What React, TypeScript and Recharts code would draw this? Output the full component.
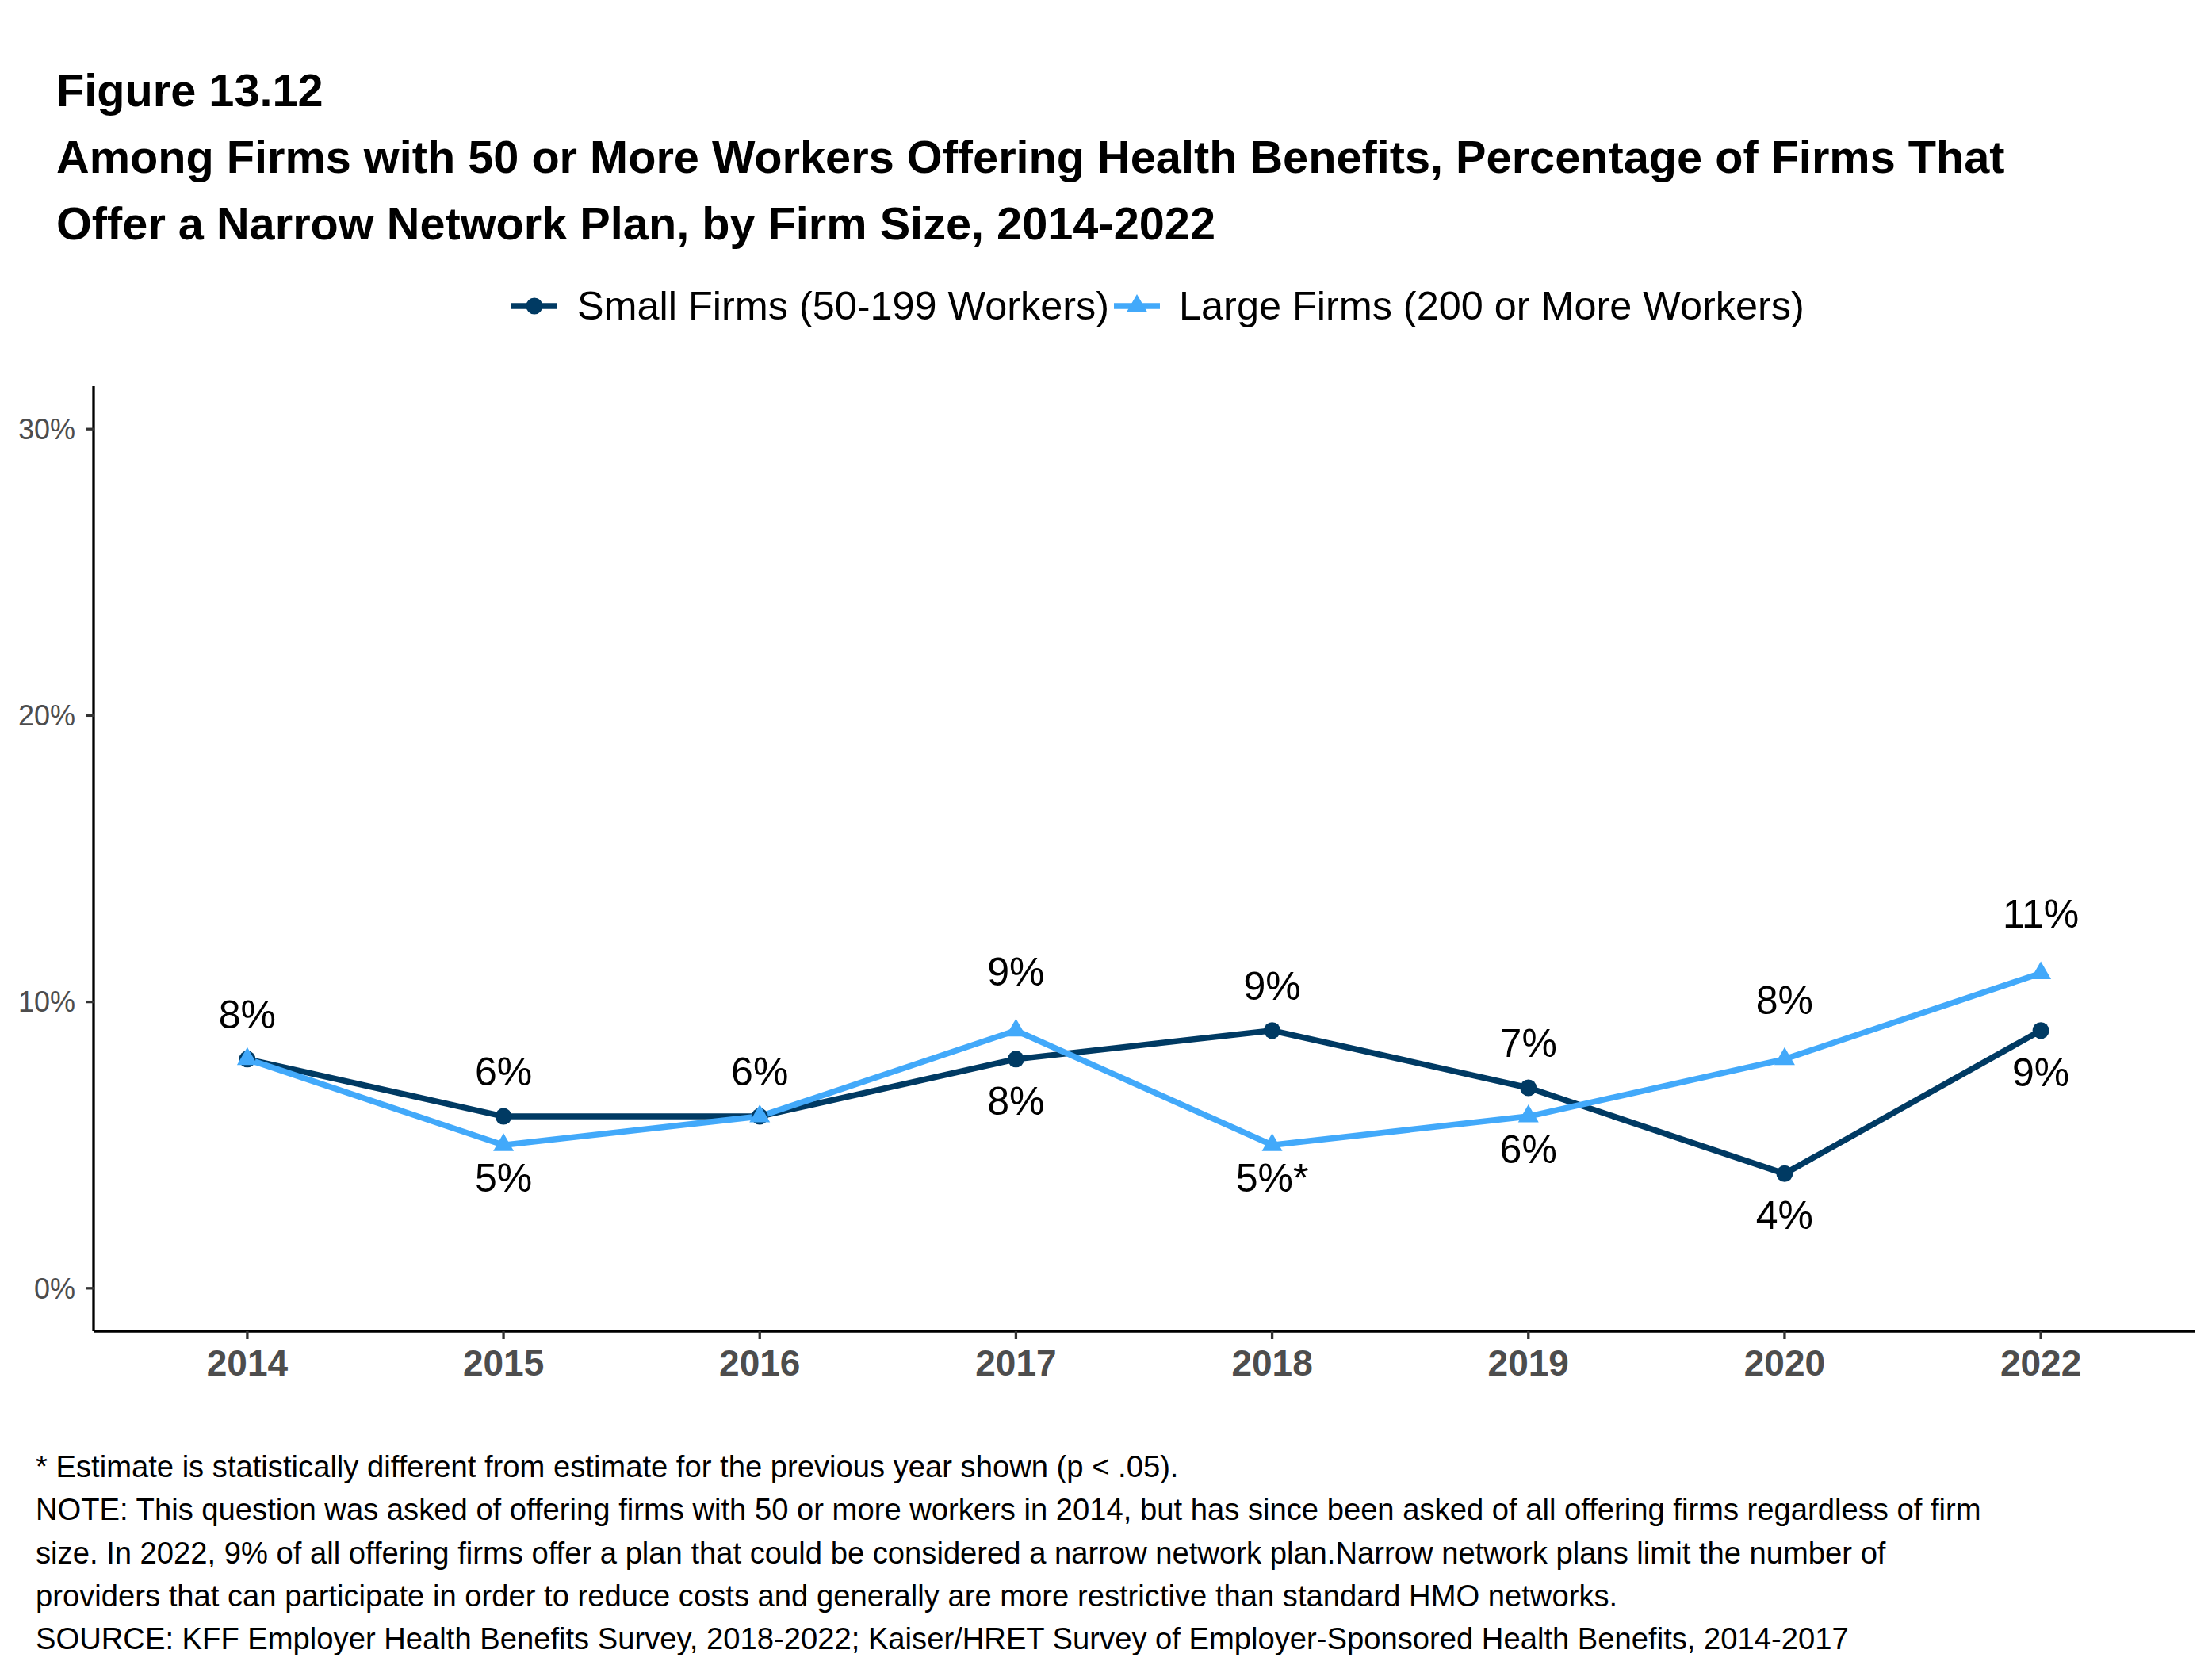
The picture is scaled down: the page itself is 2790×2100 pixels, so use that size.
import { LineChart, Line, XAxis, YAxis, LabelList } from 'recharts';

const years = ['2014', '2015', '2016', '2017', '2018', '2019', '2020', '2022'];
const smallFirms = [8, 6, 6, 8, 9, 7, 4, 9];
const largeFirms = [8, 5, 6, 9, 5, 6, 8, 11];
// * = statistically different from the previous year shown
const largeStarred = [false, false, false, false, true, false, false, false];
const yTicks = [0, 10, 20, 30];

const titleLines = [
  'Figure 13.12',
  'Among Firms with 50 or More Workers Offering Health Benefits, Percentage of Firms That',
  'Offer a Narrow Network Plan, by Firm Size, 2014-2022',
];
const noteLines = [
  '* Estimate is statistically different from estimate for the previous year shown (p < .05).',
  'NOTE: This question was asked of offering firms with 50 or more workers in 2014, but has since been asked of all offering firms regardless of firm',
  'size. In 2022, 9% of all offering firms offer a plan that could be considered a narrow network plan.Narrow network plans limit the number of',
  'providers that can participate in order to reduce costs and generally are more restrictive than standard HMO networks.',
  'SOURCE: KFF Employer Health Benefits Survey, 2018-2022; Kaiser/HRET Survey of Employer-Sponsored Health Benefits, 2014-2017',
];

const SMALL = '#003A63';
const LARGE = '#42A9FA';
const FONT = '"Liberation Sans", Arial, Helvetica, sans-serif';

const data = years.map((year, i) => ({
  idx: i,
  year,
  small: smallFirms[i],
  large: largeFirms[i],
}));

const Triangle = ({ cx, cy, fill }: { cx: number; cy: number; fill: string }) => (
  <path d={`M${cx},${cy - 15} L${cx + 13},${cy + 7.5} L${cx - 13},${cy + 7.5} Z`} fill={fill} />
);

function smallLabel(props: any) {
  const { x, y, index } = props;
  if (index == null) return null;
  const above = smallFirms[index] >= largeFirms[index];
  return (
    <text key={`sl-${index}`} x={x} y={above ? y - 39 : y + 70} textAnchor="middle"
      fontSize={50} fontFamily={FONT} fill="#000">
      {smallFirms[index]}%
    </text>
  );
}

function largeLabel(props: any) {
  const { x, y, index } = props;
  if (index == null) return null;
  if (largeFirms[index] === smallFirms[index]) return null;
  const above = largeFirms[index] > smallFirms[index];
  return (
    <text key={`ll-${index}`} x={x} y={above ? y - 57 : y + 59} textAnchor="middle"
      fontSize={50} fontFamily={FONT} fill="#000">
      {largeFirms[index]}%{largeStarred[index] ? '*' : ''}
    </text>
  );
}

function LegendKey({ color, shape }: { color: string; shape: 'circle' | 'triangle' }) {
  return (
    <svg width={58} height={40} style={{ display: 'block' }}>
      <line x1={0} y1={20} x2={58} y2={20} stroke={color} strokeWidth={7.5} />
      {shape === 'circle'
        ? <circle cx={29} cy={20} r={10.5} fill={color} />
        : <Triangle cx={29} cy={20} fill={color} />}
    </svg>
  );
}

export default function App() {
  return (
    <div style={{ position: 'relative', width: 2790, height: 2100, background: '#fff', fontFamily: FONT }}>
      <style>{'body{margin:0}'}</style>

      <div style={{ position: 'absolute', left: 71, top: 72, fontSize: 57.7, fontWeight: 700, lineHeight: '84px', color: '#000', whiteSpace: 'nowrap' }}>
        {titleLines.map((t) => <div key={t}>{t}</div>)}
      </div>

      <div style={{ position: 'absolute', left: 645, top: 356, height: 60, display: 'flex', alignItems: 'center', fontSize: 50.4, lineHeight: '60px', color: '#000', whiteSpace: 'nowrap' }}>
        <LegendKey color={SMALL} shape="circle" />
        <span style={{ marginLeft: 25 }}>Small Firms (50-199 Workers)</span>
        <span style={{ marginLeft: 6 }}><LegendKey color={LARGE} shape="triangle" /></span>
        <span style={{ marginLeft: 24 }}>Large Firms (200 or More Workers)</span>
      </div>

      <div style={{ position: 'absolute', left: 0, top: 0 }}>
        <LineChart width={2790} height={2100} data={data}
          margin={{ top: 487, right: 22, bottom: 341, left: 0 }}>
          <XAxis
            dataKey="idx"
            type="number"
            domain={[-0.6, years.length - 0.4]}
            ticks={years.map((_, i) => i)}
            tickFormatter={(i: number) => years[i]}
            height={80}
            axisLine={{ stroke: '#000', strokeWidth: 3.3 }}
            tickLine={{ stroke: '#333', strokeWidth: 3.3 }}
            tickSize={10}
            tickMargin={13}
            tick={{ fill: '#4d4d4d', fontSize: 46, fontWeight: 700, fontFamily: FONT }}
            allowDataOverflow
          />
          <YAxis
            type="number"
            domain={[-1.5, 31.5]}
            ticks={yTicks}
            tickFormatter={(v: number) => `${v}%`}
            width={118}
            axisLine={{ stroke: '#000', strokeWidth: 3.3 }}
            tickLine={{ stroke: '#333', strokeWidth: 3.3 }}
            tickSize={10}
            tickMargin={13}
            tick={{ fill: '#4d4d4d', fontSize: 36, fontFamily: FONT }}
            allowDataOverflow
          />
          <Line
            dataKey="small"
            stroke={SMALL}
            strokeWidth={7.5}
            isAnimationActive={false}
            activeDot={false}
            dot={(p: any) => <circle key={`sd-${p.index}`} cx={p.cx} cy={p.cy} r={10.5} fill={SMALL} />}
          >
            <LabelList dataKey="small" content={smallLabel} />
          </Line>
          <Line
            dataKey="large"
            stroke={LARGE}
            strokeWidth={7.5}
            isAnimationActive={false}
            activeDot={false}
            dot={(p: any) => <Triangle key={`ld-${p.index}`} cx={p.cx} cy={p.cy} fill={LARGE} />}
          >
            <LabelList dataKey="large" content={largeLabel} />
          </Line>
        </LineChart>
      </div>

      <div style={{ position: 'absolute', left: 45, top: 1823, fontSize: 38.2, lineHeight: '54.3px', color: '#000', whiteSpace: 'nowrap' }}>
        {noteLines.map((t) => <div key={t}>{t}</div>)}
      </div>
    </div>
  );
}
